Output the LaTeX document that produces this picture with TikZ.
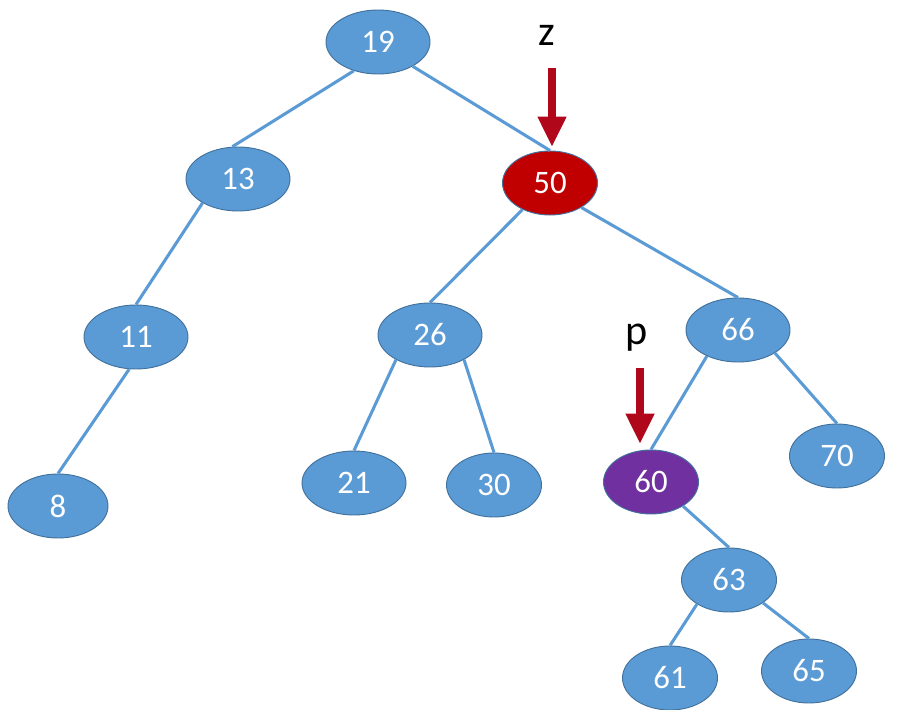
\documentclass[tikz,border=0pt]{standalone}
\usepackage{fontspec}
\setmainfont{Carlito}
\usetikzlibrary{arrows.meta,shapes.geometric}
\definecolor{nodeblue}{HTML}{5B9BD5}
\definecolor{nodeedge}{HTML}{41719C}
\definecolor{zred}{HTML}{C00000}
\definecolor{ppurple}{HTML}{7030A0}
\definecolor{arrowred}{HTML}{B0081A}
\tikzset{
  tnode/.style={ellipse, draw=nodeedge, line width=0.8pt, fill=nodeblue,
    minimum width=3.12cm, minimum height=1.92cm, inner sep=0pt,
    text=white, font=\fontsize{28}{32}\selectfont},
  narrow/.style={minimum width=2.85cm},
  rednode/.style={tnode, fill=zred},
  purplenode/.style={tnode, fill=ppurple},
  edge/.style={draw=nodeblue, line width=2.6pt},
  pointer/.style={draw=arrowred, line width=7.6pt, -{Triangle[width=23pt,length=26pt]}},
  lbl/.style={font=\fontsize{36}{40}\selectfont, text=black, inner sep=0pt}
}
\begin{document}
\begin{tikzpicture}[x=0.03cm,y=-0.03cm]
\useasboundingbox[fill=white] (0,0) rectangle (902,710);
\node[tnode] (n19) at (378,42) {19};
\node[tnode] (n13) at (238,179) {13};
\node[rednode,narrow] (n50) at (550,183) {50};
\node[tnode] (n11) at (136,337) {11};
\node[tnode] (n26) at (430,335) {26};
\node[tnode] (n66) at (738,330) {66};
\node[tnode,minimum width=3cm] (n8) at (58,506) {8};
\node[tnode] (n21) at (354,483) {21};
\node[tnode,narrow] (n30) at (494,485) {30};
\node[purplenode,narrow] (n60) at (651,482) {60};
\node[tnode,narrow] (n70) at (837,456) {70};
\node[tnode,narrow] (n63) at (729,580) {63};
\node[tnode,narrow] (n61) at (670,678) {61};
\node[tnode,narrow] (n65) at (809,671) {65};
\draw[edge] (n19.230) -- (n13.100);
\draw[edge] (n19.325) -- (n50.north);
\draw[edge] (n13.214) -- (n11.north);
\draw[edge] (n11.258) -- (n8.north);
\draw[edge] (n50.224) -- (n26.north);
\draw[edge] (n50.322) -- (n66.north);
\draw[edge] (n26.216) -- (n21.north);
\draw[edge] (n26.324) -- (n30.north);
\draw[edge] (n66.220) -- (n60.north);
\draw[edge] (n66.328) -- (n70.north);
\draw[edge] (n60.323) -- (n63.north);
\draw[edge] (n63.217) -- (n61.north);
\draw[edge] (n63.326) -- (n65.north);
% pointers
\node[lbl] (z) at (547,35) {z};
\coordinate (zs) at (552,68);
\coordinate (zt) at (552,147);
\draw[pointer] (zs) -- (zt);
\node[lbl] (p) at (637,338) {p};
\coordinate (ps) at (640,368);
\coordinate (pt) at (640,444);
\draw[pointer] (ps) -- (pt);
\end{tikzpicture}
\end{document}
